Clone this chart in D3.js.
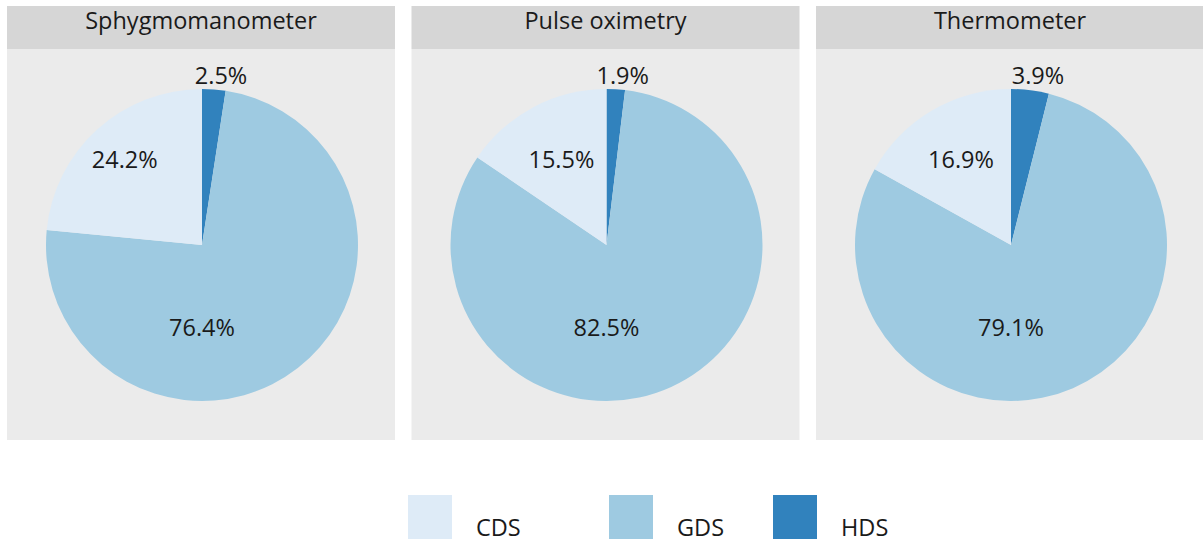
<!DOCTYPE html>
<html>
<head>
<meta charset="utf-8">
<script src="https://cdn.jsdelivr.net/npm/d3@7"></script>
<style>
  html, body { margin: 0; padding: 0; background: #ffffff; }
  svg { display: block; font-family: "Open Sans", "Liberation Sans", sans-serif; }
</style>
</head>
<body>
<svg id="chart" width="1203" height="542"></svg>
<script>
// ---- data ----
const charts = ["Sphygmomanometer", "Pulse oximetry", "Thermometer"];
const categories = ["HDS", "GDS", "CDS"];
const hdsValues = [2.5, 1.9, 3.9];
const gdsValues = [76.4, 82.5, 79.1];
const cdsValues = [24.2, 15.5, 16.9];
const legendOrder = ["CDS", "GDS", "HDS"];
const colors = ["#3182bd", "#9ecae1", "#deebf7"]; // HDS, GDS, CDS

// ---- layout ----
const W = 1203, H = 542;
const svg = d3.select("#chart");
const x = d3.scaleBand().domain(charts).range([7, 1204]).paddingInner(0.0408).paddingOuter(0);
const color = d3.scaleOrdinal().domain(categories).range(colors);
const headerTop = 6, headerH = 43, bodyBottom = 440;
const cy = 245, R = 156;
const fmt = d3.format(".1f");

const pie = d3.pie().sort(null).value(d => d.value);
const arc = d3.arc().innerRadius(0).outerRadius(R);

charts.forEach((name, i) => {
  const g = svg.append("g").attr("transform", `translate(${x(name)},0)`);
  const bw = x.bandwidth();
  g.append("rect").attr("x", 0).attr("y", headerTop + headerH).attr("width", bw)
    .attr("height", bodyBottom - headerTop - headerH).attr("fill", "#ebebeb");
  g.append("rect").attr("x", 0).attr("y", headerTop).attr("width", bw)
    .attr("height", headerH).attr("fill", "#d6d6d6");
  g.append("text").attr("x", bw / 2).attr("y", 29).attr("text-anchor", "middle")
    .attr("font-size", 23.5).attr("fill", "#1a1a1a").text(name);

  const data = [
    { cat: "HDS", value: hdsValues[i] },
    { cat: "GDS", value: gdsValues[i] },
    { cat: "CDS", value: cdsValues[i] }
  ];
  const arcs = pie(data);
  const pg = g.append("g").attr("transform", `translate(${bw / 2 + 1},${cy})`);
  pg.selectAll("path").data(arcs).join("path")
    .attr("d", arc).attr("fill", d => color(d.data.cat));

  pg.selectAll("text").data(arcs).join("text")
    .attr("text-anchor", "middle").attr("font-size", 23.5).attr("fill", "#1a1a1a")
    .attr("transform", d => {
      const mid = (d.startAngle + d.endAngle) / 2;
      let px, py;
      if (d.data.cat === "HDS") {
        px = Math.sin(mid) * R * 1.1 + 6; py = -(R + 5);
      } else if (d.data.cat === "GDS") {
        px = 0; py = R * 0.53 + 8;
      } else {
        py = -R * 0.545 + 8;
        px = Math.tan(mid) * R * 0.545;
        px = Math.max(px, -R * 0.6);
      }
      return `translate(${px},${py})`;
    })
    .text(d => fmt(d.data.value) + "%");
});

// ---- legend ----
const legendX = d3.scaleOrdinal().domain(legendOrder).range([408, 609, 773]);
const lg = svg.append("g");
legendOrder.forEach(c => {
  lg.append("rect").attr("x", legendX(c)).attr("y", 495).attr("width", 44).attr("height", 44)
    .attr("fill", color(c));
  lg.append("text").attr("x", legendX(c) + 68).attr("y", 536).attr("font-size", 23.5)
    .attr("fill", "#1a1a1a").text(c);
});
</script>
</body>
</html>
